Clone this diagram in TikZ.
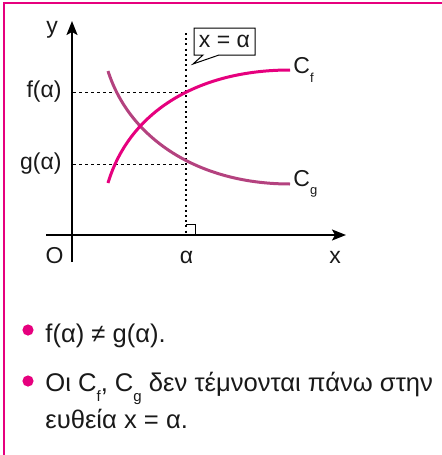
\documentclass[tikz,border=0pt]{standalone}
\usepackage{fontspec}
\setmainfont{Liberation Sans}
\usetikzlibrary{arrows.meta}
\definecolor{mag}{HTML}{E6007E}
\definecolor{cgcol}{HTML}{B4427F}
\newcommand{\lowidx}[1]{\raisebox{-4.3pt}{\fontsize{6.5}{7}\selectfont #1}}
\newcommand{\lowidxb}[1]{\raisebox{-5pt}{\fontsize{7.5}{8}\selectfont #1}}
\begin{document}
\begin{tikzpicture}[x=0.5pt,y=-0.5pt,
  every node/.style={font=\fontsize{11.5}{13}\selectfont, inner sep=0pt, text=black!90},
  frame/.style={draw=mag, line width=1.3pt},
  axis/.style={line width=0.9pt, -{Stealth[length=7pt,width=5.5pt,inset=1.5pt]}},
  guide/.style={line width=0.5pt, dash pattern=on 1.5pt off 1.5pt},
  vguide/.style={line width=0.6pt, dash pattern=on 1pt off 1.6pt},
  fcurve/.style={draw=mag, line width=1.5pt},
  gcurve/.style={draw=cgcol, line width=1.5pt},
  bulletdot/.style={circle, fill=mag, minimum size=5.6pt, inner sep=0pt},
  btext/.style={anchor=base west, font=\fontsize{12.8}{15}\selectfont}
]
\useasboundingbox (0,0) rectangle (442,455);
% frame
\draw[frame] (442,3) -- (4,3) -- (4,455);

% axes
\coordinate (xs) at (46,235);
\coordinate (xe) at (346,235);
\coordinate (yb) at (72,262);
\coordinate (yt) at (72,21);
\draw[axis] (xs) -- (xe);
\draw[axis] (yb) -- (yt);

\node (ylab) at (52,30) {y};
\node (olab) [anchor=base] at (54.5,263) {O};
\node (alab) [anchor=base] at (186.5,263) {α};
\node (xlab) [anchor=base] at (335,263) {x};
\node (flab) [anchor=east] at (62,92) {f(α)};
\node (glab) [anchor=east] at (62,164) {g(α)};

% guide lines
\coordinate (fy) at (73,92);
\coordinate (gy) at (73,164);
\coordinate (fa) at (186,92);
\coordinate (ga) at (186,164);
\coordinate (vtop) at (186,33);
\coordinate (vbot) at (186,234);
\draw[guide] (fy) -- (fa);
\draw[guide] (gy) -- (ga);
\draw[vguide] (vtop) -- (vbot);
\draw[line width=0.5pt] (186,224) -- (195,224) -- (195,234);

% callout
\node (callout) at (224.5,41.5) {x = α};
\draw[line width=0.5pt] (194,28) -- (255,28) -- (255,55) -- (219,55) -- (193,64) -- (203,55) -- (194,55) -- cycle;

% curves
\coordinate (fs) at (108,183);
\coordinate (fe) at (290,70);
\coordinate (gs) at (108,71);
\coordinate (ge) at (290,184);
\draw[gcurve] (gs) .. controls (130,140) and (200,184) .. (ge);
\draw[fcurve] (fs) .. controls (130,110) and (200,70) .. (fe);
\node (cf) [anchor=west] at (293,70) {C\lowidx{f}};
\node (cg) [anchor=west] at (293,184) {C\lowidx{g}};

% bullets
\node (b1) [bulletdot] at (28,330) {};
\node (t1) [btext] at (45,342) {f(α) ≠ g(α).};
\node (b2) [bulletdot] at (28,381) {};
\node (t2) [btext] at (45,391) {Οι C\lowidxb{f}, C\lowidxb{g} δεν τέμνονται πάνω στην};
\node (t3) [btext] at (45,428) {ευθεία x = α.};
\end{tikzpicture}
\end{document}
